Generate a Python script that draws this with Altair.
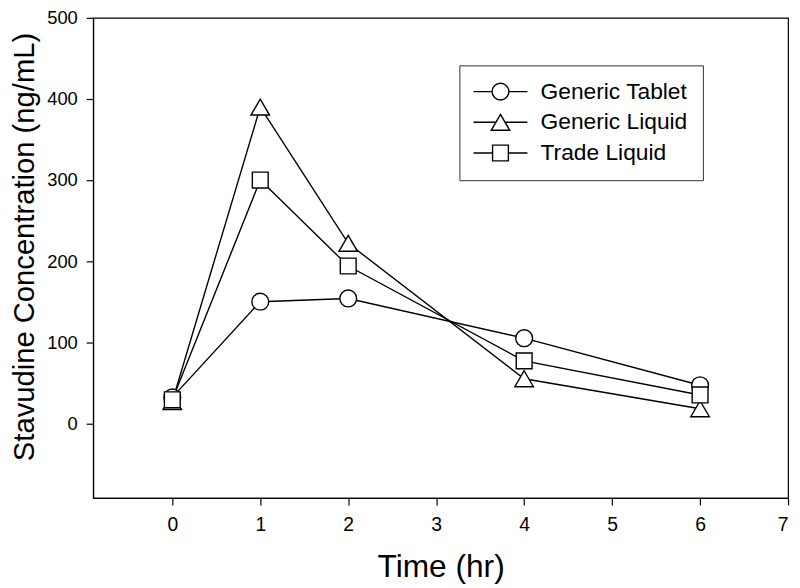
import altair as alt
import pandas as pd

times = [0, 1, 2, 4, 6]
series_names = ["Generic Tablet", "Generic Liquid", "Trade Liquid"]
generic_tablet = [32, 150, 154, 105, 47]
generic_liquid = [27, 390, 222, 55, 18]
trade_liquid = [29, 300, 194, 77, 35]
x_ticks = [0, 1, 2, 3, 4, 5, 6, 7]
y_ticks = [0, 100, 200, 300, 400, 500]

rows = []
for name, vals in zip(series_names, [generic_tablet, generic_liquid, trade_liquid]):
    for t, v in zip(times, vals):
        rows.append({"time": t, "conc": v, "series": name})
df = pd.DataFrame(rows)

FONT = "Liberation Sans"

plot_paths = [
    "M-1,0A1,1 0 1,1 1,0A1,1 0 1,1 -1,0Z",
    "M0,-0.95L1.1,0.95L-1.1,0.95Z",
    "M-0.94,-0.94H0.94V0.94H-0.94Z",
]
legend_paths = [
    "M-3.2,0H-1M1,0H3.2M-1,0A1,1 0 1,1 1,0A1,1 0 1,1 -1,0Z",
    "M-3.2,0H-0.55M0.55,0H3.2M0,-0.95L1.1,0.95L-1.1,0.95Z",
    "M-3.2,0H-0.94M0.94,0H3.2M-0.94,-0.94H0.94V0.94H-0.94Z",
]

x_enc = alt.X(
    "time:Q",
    scale=alt.Scale(domain=[-0.9, 7], nice=False, zero=False),
    axis=alt.Axis(
        values=x_ticks, title="Time (hr)", titleFontSize=32, titleY=79,
        titleBaseline="alphabetic", labelPadding=11, labelFontSize=19.5,
    ),
)
y_enc = alt.Y(
    "conc:Q",
    scale=alt.Scale(domain=[-92, 500], nice=False, zero=False),
    axis=alt.Axis(
        values=y_ticks, title="Stavudine Concentration (ng/mL)", titleFontSize=29.5,
        titleX=-60, titleY=231, titleBaseline="alphabetic", titleAngle=270,
        labelPadding=9, labelFontSize=18.5,
    ),
)

base = alt.Chart(df)

lines = base.mark_line(color="black", strokeWidth=1.4).encode(
    x=x_enc, y=y_enc, detail="series:N", order="time:Q"
)

points = base.mark_point(
    filled=True, fill="white", stroke="black", strokeWidth=1.4, size=289, opacity=1
).encode(
    x=x_enc, y=y_enc,
    shape=alt.Shape("series:N", scale=alt.Scale(domain=series_names, range=plot_paths), legend=None),
)

# legend-only layer: no rows survive the filter, the explicit domain keeps the legend
legend_carrier = base.transform_filter(alt.datum.time < -100).mark_point(
    filled=False, color="black", strokeWidth=1.4, size=289, opacity=1
).encode(
    x=x_enc, y=y_enc,
    shape=alt.Shape(
        "series:N",
        scale=alt.Scale(domain=series_names, range=legend_paths),
        legend=alt.Legend(
            title=None, orient="none", legendX=370, legendY=48,
            padding=15, rowPadding=7, symbolOffset=15, labelOffset=29,
            symbolSize=289, symbolOpacity=1,
            symbolStrokeColor="black", symbolStrokeWidth=1.4,
            labelFont=FONT, labelFontSize=23, labelColor="black",
            labelLimit=400,
            strokeColor="#333333", fillColor="white",
        ),
    ),
)

chart = (
    alt.layer(legend_carrier, lines, points)
    .resolve_scale(shape="independent")
    .properties(
        width=702, height=485,
        background="white",
        autosize=alt.AutoSizeParams(type="none"),
        padding={"left": 86, "top": 7, "right": 4, "bottom": 88},
    )
    .configure_view(stroke="black", strokeWidth=1.2)
    .configure_axis(
        grid=False, domainColor="black", tickColor="black", tickSize=7,
        labelFont=FONT, labelColor="black",
        titleFont=FONT, titleFontWeight="normal", titleColor="black",
        domainWidth=1.2, tickWidth=1.2,
    )
)

chart.save("out.html", embed_options={"renderer": "svg", "actions": False})
